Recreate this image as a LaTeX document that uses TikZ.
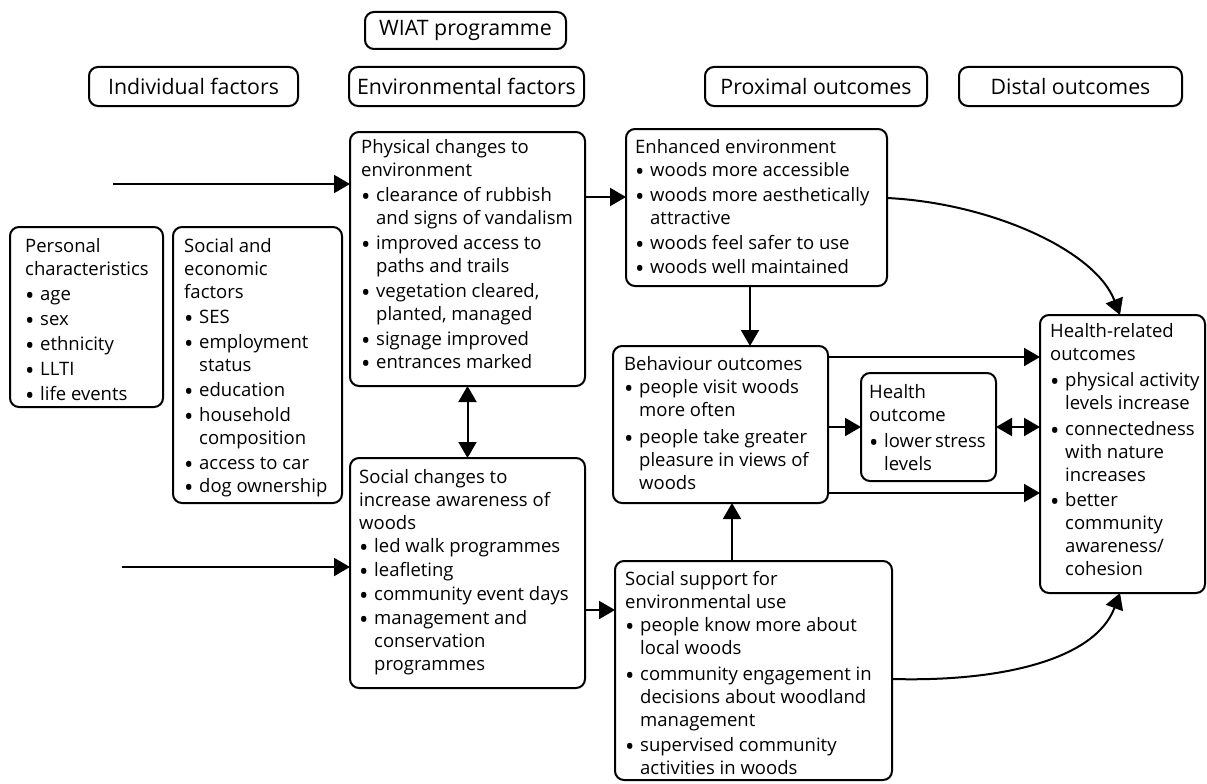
\documentclass[tikz,border=0pt]{standalone}
\usepackage{fontspec}
\setmainfont{Open Sans}
\usetikzlibrary{arrows.meta}
\newcommand\bu{\makebox[15pt][l]{\smash{\raisebox{-4.6pt}{\fontsize{25}{23}\selectfont\textbullet}}}}
\newcommand\ct{\hspace*{15pt}}
\begin{document}
\begin{tikzpicture}[x=1pt,y=-1pt,
  box/.style={draw, line width=2pt, rounded corners=9pt, inner sep=0pt, outer sep=0pt, anchor=north west},
  hdr/.style={draw, line width=2pt, rounded corners=9pt, inner sep=0pt, outer sep=0pt, font=\fontsize{21.3}{25}\selectfont},
  txt/.style={anchor=north west, inner sep=0pt, align=left, font=\fontsize{18.5}{23}\selectfont},
  arr/.style={line width=2pt, -{Triangle[length=16pt,width=18pt]}},
  darr/.style={line width=2pt, {Triangle[length=16pt,width=18pt]}-{Triangle[length=16pt,width=18pt]}}]
\useasboundingbox (0,0) rectangle (1207,784);

% headers
\node[hdr, minimum width=201pt, minimum height=37pt] (wiat) at (465.5,30.5) {WIAT programme};
\node[hdr, minimum width=209pt, minimum height=39pt] (indiv) at (193.5,86.5) {Individual factors};
\node[hdr, minimum width=235pt, minimum height=39pt] (envf) at (466.5,86.5) {Environmental factors};
\node[hdr, minimum width=222pt, minimum height=39pt] (prox) at (816,86.5) {Proximal outcomes};
\node[hdr, minimum width=223pt, minimum height=39pt] (dist) at (1070.5,86.5) {Distal outcomes};

% boxes
\node[box, minimum width=153pt, minimum height=180pt] (pers) at (10,227) {};
\node[box, minimum width=169pt, minimum height=276pt] (socec) at (173,227) {};
\node[box, minimum width=235pt, minimum height=254pt] (phys) at (350,132) {};
\node[box, minimum width=235pt, minimum height=230pt] (socch) at (350,458) {};
\node[box, minimum width=261pt, minimum height=157pt] (enh) at (626,129) {};
\node[box, minimum width=215pt, minimum height=157pt] (beh) at (613,346) {};
\node[box, minimum width=135pt, minimum height=108pt] (hout) at (861,373) {};
\node[box, minimum width=165pt, minimum height=278pt] (hrel) at (1040,315) {};
\node[box, minimum width=277pt, minimum height=219pt] (ssup) at (615,561) {};

% texts
\node[txt] (perst) at (25,236) {\strut Personal\\characteristics\\[2pt]
  \bu age\\[2pt]\bu sex\\[2pt]\bu ethnicity\\[2pt]\bu LLTI\\[2pt]\bu life events};
\node[txt] (socect) at (184,236) {\strut Social and\\economic\\factors\\[2pt]
  \bu SES\\[2pt]\bu employment\\\ct status\\[2pt]\bu education\\[2pt]
  \bu household\\\ct composition\\[2pt]\bu access to car\\\bu dog ownership};
\node[txt] (physt) at (361,137) {\strut Physical changes to\\environment\\[2pt]
  \bu clearance of rubbish\\\ct and signs of vandalism\\[2pt]
  \bu improved access to\\\ct paths and trails\\[2pt]
  \bu vegetation cleared,\\\ct planted, managed\\[2pt]
  \bu signage improved\\\bu entrances marked};
\node[txt] (socht) at (359,467) {\strut Social changes to\\increase awareness of\\woods\\
  \bu led walk programmes\\[1pt]\bu leafleting\\[1pt]\bu community event days\\[1pt]
  \bu management and\\\ct conservation\\\ct programmes};
\node[txt] (enht) at (635,137) {\strut Enhanced environment\\
  \bu woods more accessible\\[2pt]\bu woods more aesthetically\\\ct attractive\\[2pt]
  \bu woods feel safer to use\\[1pt]\bu woods well maintained};
\node[txt] (beht) at (624,354) {\strut Behaviour outcomes\\
  \bu people visit woods\\\ct more often\\[4pt]
  \bu people take greater\\\ct pleasure in views of\\\ct woods};
\node[txt] (houtt) at (869,382) {\strut Health\\outcome\\[3pt]
  \bu lower\,stress\\\ct levels};
\node[txt] (hrelt) at (1050,321) {\strut Health-related\\outcomes\\[3pt]
  \bu physical activity\\\ct levels increase\\[3pt]
  \bu connectedness\\\ct with nature\\\ct increases\\[2pt]
  \bu better\\\ct community\\\ct awareness/\\\ct cohesion};
\node[txt] (ssupt) at (625,569) {\strut Social support for\\environmental use\\
  \bu people know more about\\\ct local woods\\[3pt]
  \bu community engagement in\\\ct decisions about woodland\\\ct management\\[2pt]
  \bu supervised community\\\ct activities in woods};

% connectors
\coordinate (in1) at (113,184);
\coordinate (in2) at (122,567);
\draw[arr] (in1) -- (in1 -| phys.west);
\draw[arr] (in2) -- (in2 -| socch.west);
\draw[arr] (phys.east |- 0,197) -- (enh.west |- 0,197);
\draw[darr] (phys.south) -- (socch.north);
\draw[arr] (750,0 |- enh.south) -- (750,0 |- beh.north);
\draw[arr] (enh.east |- 0,198) .. controls (990,203) and (1095,250) .. (1120,0 |- hrel.north);
\draw[arr] (beh.east |- 0,357) -- (hrel.west |- 0,357);
\draw[arr] (beh.east |- 0,427) -- (hout.west |- 0,427);
\draw[darr] (hout.east |- 0,427) -- (hrel.west |- 0,427);
\draw[arr] (beh.east |- 0,493) -- (hrel.west |- 0,493);
\draw[arr] (socch.east |- 0,610) -- (ssup.west |- 0,610);
\draw[arr] (732,0 |- ssup.north) -- (732,0 |- beh.south);
\draw[arr] (ssup.east |- 0,679) .. controls (1000,682) and (1095,660) .. (1120,0 |- hrel.south);
\end{tikzpicture}
\end{document}
